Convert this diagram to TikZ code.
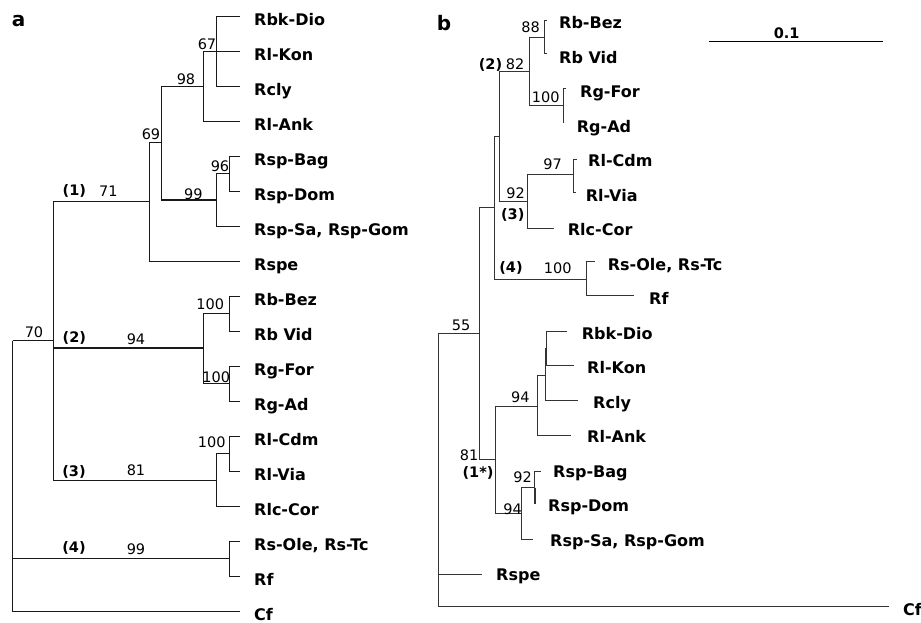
\documentclass[tikz,border=0pt]{standalone}
\usepackage{fontspec}
\setmainfont{DejaVu Sans}
\begin{document}
\begin{tikzpicture}[x=1pt,y=-1pt,
  bra/.style={line width=1pt,black!90},
  brb/.style={line width=0.8pt,black!80},
  thk/.style={line width=1.8pt},
  leaf/.style={font=\fontsize{16}{16}\selectfont\bfseries,anchor=base west,inner sep=0pt},
  bs/.style={font=\fontsize{14.5}{14.5}\selectfont,inner sep=0pt},
  clade/.style={font=\fontsize{14.5}{14.5}\selectfont\bfseries,inner sep=0pt},
  panel/.style={font=\fontsize{20}{20}\selectfont\bfseries,inner sep=0pt}]
\useasboundingbox (0,0) rectangle (921,622);
\fill[white] (0,0) rectangle (921,622);

% ---------------- panel a ----------------
\node[panel] (pa) at (18.5,21) {a};
\foreach \k/\t in {0/Rbk-Dio,1/Rl-Kon,2/Rcly,3/Rl-Ank,4/Rsp-Bag,5/Rsp-Dom,6/{Rsp-Sa, Rsp-Gom},7/Rspe,8/Rb-Bez,9/Rb Vid,10/Rg-For,11/Rg-Ad,12/Rl-Cdm,13/Rl-Via,14/Rlc-Cor,15/{Rs-Ole, Rs-Tc},16/Rf,17/Cf}{
  \coordinate (aL\k) at (240,16+35*\k);
  \node[leaf] (aT\k) at (254,25+35*\k) {\t};
}
\coordinate (aR) at (12.7,340.5);
\coordinate (aA) at (53.3,340.5);
\coordinate (a1) at (149,201);
\coordinate (a69) at (161.7,142.5);
\coordinate (a98) at (203.3,86);
\coordinate (a67) at (216.7,51);
\coordinate (a99) at (216.7,200);
\coordinate (a96) at (229.3,173.5);
\coordinate (a2) at (203.3,348);
\coordinate (aRb) at (229.3,313.5);
\coordinate (aRg) at (229.3,383.5);
\coordinate (a3) at (216.7,480);
\coordinate (aRl) at (229.3,453.5);
\coordinate (a4) at (229.3,558.5);

\begin{scope}[bra]
\draw (aR) -- (aA);
\draw (aR) |- (a4);
\draw (aR) |- (aL17);
\draw (aA) |- (a1);
\draw[thk] (aA |- a2) -- (a2);
\draw (aA) |- (a2);
\draw (aA) |- (a3);
\draw (a1) |- (a69);
\draw (a1) |- (aL7);
\draw (a69) |- (a98);
\draw (a69) |- (a99);
\draw[thk] (a69 |- a99) -- (a99);
\draw (a98) |- (a67);
\draw (a98) |- (aL3);
\draw (a67) |- (aL0);
\draw (a67) -- (aL1);
\draw (a67) |- (aL2);
\draw (a99) |- (a96);
\draw (a99) |- (aL6);
\draw (a96) |- (aL4);
\draw (a96) |- (aL5);
\draw (a2) |- (aRb);
\draw (a2) |- (aRg);
\draw (aRb) |- (aL8);
\draw (aRb) |- (aL9);
\draw (aRg) |- (aL10);
\draw (aRg) |- (aL11);
\draw (a3) |- (aRl);
\draw (a3) |- (aL14);
\draw (aRl) |- (aL12);
\draw (aRl) |- (aL13);
\draw (a4) |- (aL15);
\draw (a4) |- (aL16);
\end{scope}

\node[bs] (av70) at (34,332) {70};
\node[clade] (ac1) at (74.3,191) {(1)};
\node[bs] (av71) at (108.3,191) {71};
\node[bs] (av69) at (151,134.5) {69};
\node[bs] (av98) at (186,79) {98};
\node[bs] (av67) at (207,44) {67};
\node[bs] (av96) at (220,166.3) {96};
\node[bs] (av99a) at (193.3,194) {99};
\node[clade] (ac2) at (74.3,338) {(2)};
\node[bs] (av94) at (136,339) {94};
\node[bs] (av100a) at (210.3,303.8) {100};
\node[bs] (av100b) at (216.3,377.5) {100};
\node[clade] (ac3) at (74,471.7) {(3)};
\node[bs] (av81) at (136,470) {81};
\node[bs] (av100c) at (211.7,442.5) {100};
\node[clade] (ac4) at (74,547.5) {(4)};
\node[bs] (av99b) at (136,549) {99};

% ---------------- panel b ----------------
\node[panel] (pb) at (444,23) {b};
\coordinate (sbL) at (708.5,41.5);
\coordinate (sbR) at (882.7,41.5);
\draw[line width=1.8pt] (sbL) -- (sbR);
\node[font=\fontsize{14.5}{14.5}\selectfont\bfseries,inner sep=0pt] (sbT) at (786.7,32.8) {0.1};

\foreach \k/\t/\x/\ex/\ey in {0/Rb-Bez/559/547.3/20.7,1/Rb Vid/559/547.3/53.3,2/Rg-For/580/566/88.3,3/Rg-Ad/576.7/563.3/123.3,4/Rl-Cdm/588/576.7/159.3,5/Rl-Via/585.7/576/192.7,6/Rlc-Cor/567.7/554/228.3,7/{Rs-Ole, Rs-Tc}/607.7/595.3/261.7,8/Rf/649/634/295,9/Rbk-Dio/581.7/566.7/331.7,10/Rl-Kon/587/574/365,11/Rcly/593/578.3/400.7,12/Rl-Ank/587/571/435,13/Rsp-Bag/553/541/471.7,14/Rsp-Dom/548/534.8/504,15/{Rsp-Sa, Rsp-Gom}/550/533.3/539,16/Rspe/496/481.7/574,17/Cf/903/889.3/606.7}{
  \coordinate (bL\k) at (\ex,\ey);
  \node[leaf] (bT\k) at (\x,28.7+34.5*\k) {\t};
}
\coordinate (bR) at (438.3,333.3);
\coordinate (b1) at (479,333.3);
\coordinate (bX) at (494.3,207);
\coordinate (bY) at (499.3,136);
\coordinate (b82) at (529,71);
\coordinate (b88) at (544,37);
\coordinate (bRg) at (563.3,105.7);
\coordinate (b3) at (527.3,201.7);
\coordinate (b97) at (573.3,174);
\coordinate (b4) at (586,279.3);
\coordinate (bS) at (495.7,459.3);
\coordinate (b94a) at (537.8,406);
\coordinate (bK) at (545.3,375);
\coordinate (bK2) at (546.7,348);
\coordinate (b94b) at (521.7,513);
\coordinate (b92) at (534.8,487.7);

\begin{scope}[brb]
\draw (bR) -- (b1);
\draw (bR) |- (bL16);
\draw[line width=1.4pt] (bR |- bL17) -- (bL17);
\draw (bR) |- (bL17);
\draw (b1) |- (bX);
\draw (b1) |- (bS);
\draw (bX) |- (bY);
\draw (bX) |- (b4);
\draw (bY) |- (b82);
\draw (bY) |- (b3);
\draw (b82) |- (b88);
\draw (b82) |- (bRg);
\draw (b88) |- (bL0);
\draw (b88) |- (bL1);
\draw (bRg) |- (bL2);
\draw[line width=1.6pt] (bRg) |- (bL3);
\draw (b3) |- (b97);
\draw (b3) |- (bL6);
\draw (b97) |- (bL4);
\draw (b97) |- (bL5);
\draw (b4) |- (bL7);
\draw (b4) |- (bL8);
\draw (bS) |- (b94a);
\draw (bS) |- (b94b);
\draw (b94a) |- (bK);
\draw (b94a) |- (bL12);
\draw (bK) |- (bK2);
\draw (bK) |- (bL11);
\draw (bK2) |- (bL9);
\draw (bK2) |- (bL10);
\draw[line width=1.5pt] (bK2) -- (bK2 |- bL10);
\draw (b94b) |- (b92);
\draw (b94b) |- (bL15);
\draw (b92) |- (bL13);
\draw[line width=1.6pt] (b92) |- (bL14);
\end{scope}

\node[bs] (bv88) at (530.5,27.5) {88};
\node[clade] (bc2) at (490.5,65) {(2)};
\node[bs] (bv82) at (515,64) {82};
\node[bs] (bv100a) at (545.8,97) {100};
\node[bs] (bv97) at (552.5,164) {97};
\node[bs] (bv92a) at (515.7,192.8) {92};
\node[clade] (bc3) at (512.7,215) {(3)};
\node[clade] (bc4) at (511,267.8) {(4)};
\node[bs] (bv100b) at (557.8,268.3) {100};
\node[bs] (bv55) at (461,325) {55};
\node[bs] (bv94a) at (520.3,397.5) {94};
\node[bs] (bv81) at (469.2,455.3) {81};
\node[clade] (bc1) at (478,473.3) {(1*)};
\node[bs] (bv92b) at (522.7,477.5) {92};
\node[bs] (bv94b) at (512.5,509) {94};
\end{tikzpicture}
\end{document}
